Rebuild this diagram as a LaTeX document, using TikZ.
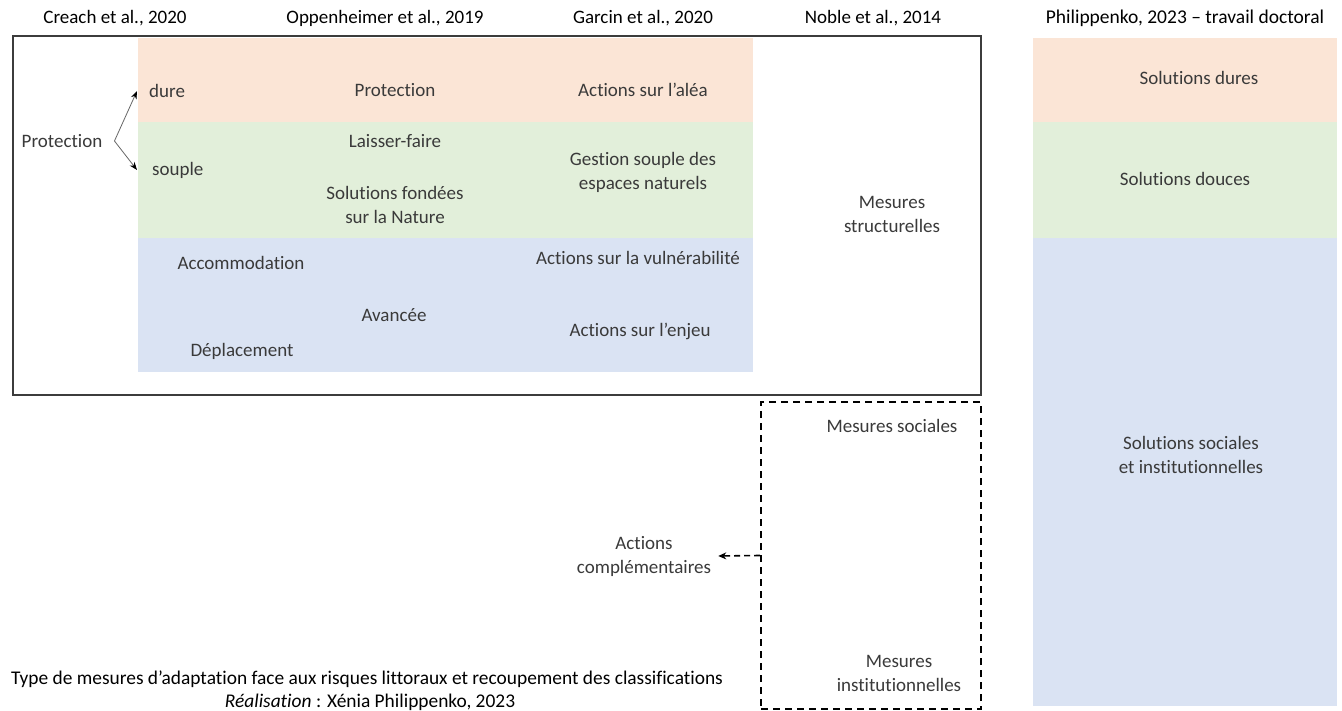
\documentclass[tikz,border=0pt]{standalone}
\usepackage{fontspec}
\setmainfont{Carlito}[Ligatures=NoCommon]
\usetikzlibrary{arrows.meta}
\definecolor{bandor}{HTML}{FBE5D6}
\definecolor{bandgr}{HTML}{E2EFDA}
\definecolor{bandbl}{HTML}{DAE3F3}
\definecolor{txt}{HTML}{3A3A3A}
\definecolor{frame}{HTML}{3C3C3C}
\begin{document}
\begin{tikzpicture}[x=1pt,y=-1pt,
  lbl/.style={font=\fontsize{19}{24}\selectfont, text=txt, align=center, inner sep=0pt},
  head/.style={font=\fontsize{19}{24}\selectfont, text=black, align=center, inner sep=0pt},
  captext/.style={font=\fontsize{19.4}{23}\selectfont, text=black, align=center, inner sep=0pt},
  thinarrow/.style={draw=black!60, line width=0.8pt, -{Stealth[length=8pt,width=6pt,black]}},
  dasharrow/.style={draw=black, line width=1.6pt, dash pattern=on 6pt off 4pt, -{Stealth[length=8pt,width=7pt]}}
]
\useasboundingbox (0,0) rectangle (1342,711);
\fill[white] (0,0) rectangle (1342,711);

% bands left table
\fill[bandor] (138,38) rectangle (753,122);
\fill[bandgr] (138,122) rectangle (753,238);
\fill[bandbl] (138,238) rectangle (753,372);
% right column
\fill[bandor] (1033,38) rectangle (1337,122);
\fill[bandgr] (1033,122) rectangle (1337,238);
\fill[bandbl] (1033,238) rectangle (1337,706);

% frames
\node[draw=frame, line width=1.6pt, minimum width=968, minimum height=359, inner sep=0pt] (mainbox) at (497,215.5) {};
\node[draw=black, line width=2pt, dash pattern=on 7pt off 5pt, minimum width=220, minimum height=307, inner sep=0pt] (dbox) at (871,555.5) {};

% headers
\node[head] (h1) at (115,18) {Creach et al., 2020};
\node[head] (h2) at (385,18) {Oppenheimer et al., 2019};
\node[head] (h3) at (643,18) {Garcin et al., 2020};
\node[head] (h4) at (873,18) {Noble et al., 2014};
\node[head, font=\fontsize{19.5}{24}\selectfont] (h5) at (1185,18) {Philippenko, 2023 – travail doctoral};

% Creach column
\node[lbl, inner xsep=12pt] (prot) at (62,141) {Protection};
\node[lbl, anchor=west, inner xsep=12pt] (dure) at (137,91) {dure};
\node[lbl, anchor=west, inner xsep=15pt] (souple) at (137,170) {souple};
\draw[thinarrow] (prot.east) -- (dure.west);
\draw[thinarrow] (prot.east) -- (souple.west);
\node[lbl] (accom) at (241,263) {Accommodation};
\node[lbl] (depl) at (242,351) {Déplacement};

% Oppenheimer column
\node[lbl] (protb) at (395,90) {Protection};
\node[lbl] (laisser) at (395,141) {Laisser-faire};
\node[lbl] (sfn) at (395,205) {Solutions fondées\\sur la Nature};
\node[lbl] (avancee) at (394,315) {Avancée};

% Garcin column
\node[lbl] (alea) at (643,90) {Actions sur l’aléa};
\node[lbl] (gestion) at (643,172) {Gestion souple des\\espaces naturels};
\node[lbl] (vuln) at (638,258) {Actions sur la vulnérabilité};
\node[lbl] (enjeu) at (640,331) {Actions sur l’enjeu};

% Noble column
\node[lbl] (struct) at (892,214) {Mesures\\structurelles};
\node[lbl] (soc) at (892,426) {Mesures sociales};
\node[lbl] (inst) at (899,673) {Mesures\\institutionnelles};

% complementary
\node[lbl, inner xsep=7pt] (comp) at (644,556) {Actions\\complémentaires};
\draw[dasharrow] (dbox.west) -- (comp.east);

% right column
\node[lbl] (sdures) at (1199,78) {Solutions dures};
\node[lbl] (sdouces) at (1185,179) {Solutions douces};
\node[lbl] (ssoc) at (1191,455) {Solutions sociales\\et institutionnelles};

% caption
\node[captext] (title) at (367,679) {Type de mesures d’adaptation face aux risques littoraux et recoupement des classifications};
\node[captext] (credit) at (370,702) {\textit{Réalisation} : Xénia Philippenko, 2023};
\end{tikzpicture}
\end{document}
